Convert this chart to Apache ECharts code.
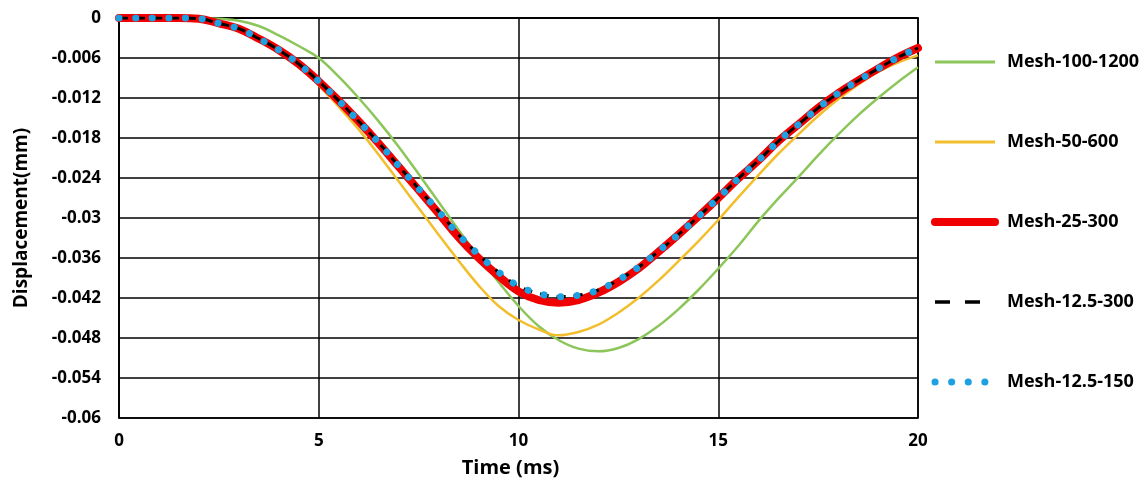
<!DOCTYPE html>
<html>
<head>
<meta charset="utf-8">
<script src="https://cdn.jsdelivr.net/npm/echarts@6/dist/echarts.min.js"></script>
<style>
  html, body { margin: 0; padding: 0; background: #fff; }
  #chart { width: 1142px; height: 488px; }
</style>
</head>
<body>
<div id="chart"></div>
<script>
// time axis (ms)
const timeMs = [0, 0.5, 1, 1.5, 2, 2.5, 3, 3.5, 4, 4.5, 5, 5.5, 6, 6.5, 7, 7.5, 8, 8.5, 9, 9.5,
  10, 10.5, 11, 11.5, 12, 12.5, 13, 13.5, 14, 14.5, 15, 15.5, 16, 16.5, 17, 17.5, 18, 18.5, 19, 19.5, 20]

// displacement (mm)
const mesh100_1200 = [0, 0, 0, 0, 0, -0.0001, -0.0004, -0.0012, -0.0026, -0.0042, -0.006, -0.0088, -0.012, -0.0155, -0.0193, -0.0234, -0.0276, -0.0318, -0.0358, -0.0396,
  -0.0432, -0.0462, -0.0483, -0.0496, -0.05, -0.0495, -0.0482, -0.0462, -0.0437, -0.0408, -0.0376, -0.0342, -0.0305, -0.0271, -0.0239, -0.0206, -0.0175, -0.0146, -0.012, -0.0096, -0.0074]
const mesh50_600 = [0, 0, 0, 0, -0.0001, -0.0008, -0.0017, -0.003, -0.0047, -0.0069, -0.0101, -0.0133, -0.0167, -0.0205, -0.0245, -0.0285, -0.0325, -0.0364, -0.0401, -0.0432,
  -0.0453, -0.0467, -0.0476, -0.0471, -0.046, -0.0442, -0.042, -0.0394, -0.0365, -0.0335, -0.0303, -0.0269, -0.0236, -0.0204, -0.0175, -0.0147, -0.0122, -0.01, -0.0081, -0.0067, -0.0056]
const mesh25_300 = [0, 0, 0, 0, -0.0001, -0.0008, -0.0016, -0.0031, -0.0048, -0.0069, -0.0095, -0.0124, -0.0155, -0.0188, -0.0223, -0.0258, -0.0293, -0.0329, -0.036, -0.0387,
  -0.041, -0.0423, -0.0427, -0.0423, -0.0412, -0.0396, -0.0376, -0.0351, -0.0325, -0.0298, -0.027, -0.0241, -0.0214, -0.0185, -0.016, -0.0135, -0.0113, -0.0094, -0.0076, -0.0059, -0.0045]
const mesh12_5_300 = [0, 0, 0, 0, -0.0001, -0.0008, -0.0016, -0.0031, -0.0048, -0.0069, -0.0095, -0.0124, -0.0155, -0.0187, -0.0222, -0.0256, -0.029, -0.0325, -0.0355, -0.0381,
  -0.0402, -0.0413, -0.0418, -0.0416, -0.0408, -0.0393, -0.0374, -0.035, -0.0325, -0.0298, -0.027, -0.0241, -0.0214, -0.0185, -0.016, -0.0135, -0.0113, -0.0094, -0.0076, -0.0059, -0.0045]
const mesh12_5_150 = [0, 0, 0, 0, -0.0001, -0.0008, -0.0016, -0.0031, -0.0048, -0.0069, -0.0095, -0.0124, -0.0155, -0.0187, -0.0222, -0.0256, -0.029, -0.0325, -0.0355, -0.0381,
  -0.0402, -0.0413, -0.0418, -0.0416, -0.0408, -0.0393, -0.0374, -0.035, -0.0325, -0.0298, -0.027, -0.0241, -0.0214, -0.0185, -0.016, -0.0135, -0.0113, -0.0094, -0.0076, -0.0059, -0.0045]

const seriesNames = ['Mesh-100-1200', 'Mesh-50-600', 'Mesh-25-300', 'Mesh-12.5-300', 'Mesh-12.5-150']

const FONT = 'Open Sans'

function pairs (ys) {
  return timeMs.map((t, i) => [t, ys[i]])
}

const myChart = echarts.init(document.getElementById('chart'))

const option = {
  animation: false,
  backgroundColor: '#fff',
  grid: {
    left: 119,
    top: 18,
    right: 224,
    bottom: 70,
    show: true,
    borderColor: '#000',
    borderWidth: 1.5
  },
  legend: {
    orient: 'vertical',
    left: 926,
    top: 48,
    itemWidth: 60,
    itemHeight: 20,
    itemGap: 62,
    // hide the round symbol the line series puts in its legend icon
    itemStyle: { opacity: 0 },
    data: [
      { name: seriesNames[0], lineStyle: { width: 3 } },
      { name: seriesNames[1], lineStyle: { width: 3 } },
      { name: seriesNames[2], lineStyle: { width: 8, cap: 'round' } },
      { name: seriesNames[3], lineStyle: { width: 3.5, type: [15, 15] } },
      { name: seriesNames[4], lineStyle: { width: 7, type: [0.1, 16.5], cap: 'round' } }
    ],
    textStyle: {
      fontFamily: FONT,
      fontWeight: 'bold',
      fontSize: 18,
      color: '#000',
      padding: [0, 0, 0, 7]
    }
  },
  xAxis: {
    type: 'value',
    min: 0,
    max: 20,
    interval: 5,
    name: 'Time (ms)',
    nameLocation: 'middle',
    nameGap: 40,
    nameTextStyle: {
      fontFamily: FONT,
      fontWeight: 'bold',
      fontSize: 20,
      color: '#000',
      padding: [0, 16, 0, 0]
    },
    axisLine: { lineStyle: { color: '#000', width: 1.5 } },
    axisTick: { show: false },
    axisLabel: {
      margin: 15,
      fontFamily: FONT,
      fontWeight: 'bold',
      fontSize: 17,
      color: '#000'
    },
    splitLine: { lineStyle: { color: '#000', width: 1.5 } }
  },
  yAxis: {
    type: 'value',
    min: -0.06,
    max: 0,
    interval: 0.006,
    name: 'Displacement(mm)',
    nameLocation: 'middle',
    nameGap: 88,
    nameTextStyle: {
      fontFamily: FONT,
      fontWeight: 'bold',
      fontSize: 19,
      color: '#000'
    },
    axisLine: { show: true, lineStyle: { color: '#000', width: 1.5 } },
    axisTick: { show: false },
    axisLabel: {
      margin: 18,
      fontFamily: FONT,
      fontWeight: 'bold',
      fontSize: 17,
      color: '#000',
      formatter: v => String(parseFloat(v.toFixed(3)))
    },
    splitLine: { lineStyle: { color: '#000', width: 1.5 } }
  },
  series: [
    {
      name: seriesNames[0],
      type: 'line',
      data: pairs(mesh100_1200),
      smooth: 0.4,
      symbol: 'none',
      lineStyle: { color: '#8CC65A', width: 2.5 },
      itemStyle: { color: '#8CC65A' }
    },
    {
      name: seriesNames[1],
      type: 'line',
      data: pairs(mesh50_600),
      smooth: 0.4,
      symbol: 'none',
      lineStyle: { color: '#F2BE2C', width: 2.5 },
      itemStyle: { color: '#F2BE2C' }
    },
    {
      name: seriesNames[2],
      type: 'line',
      data: pairs(mesh25_300),
      smooth: 0.4,
      symbol: 'none',
      lineStyle: { color: '#F00000', width: 8, cap: 'round' },
      itemStyle: { color: '#F00000' }
    },
    {
      name: seriesNames[3],
      type: 'line',
      data: pairs(mesh12_5_300),
      smooth: 0.4,
      symbol: 'none',
      lineStyle: { color: '#000', width: 3, type: [9, 8] },
      itemStyle: { color: '#000' }
    },
    {
      name: seriesNames[4],
      type: 'line',
      data: pairs(mesh12_5_150),
      smooth: 0.4,
      symbol: 'none',
      lineStyle: { color: '#1DA1E2', width: 7, type: [0.1, 16.5], cap: 'round' },
      itemStyle: { color: '#1DA1E2' }
    }
  ]
}

myChart.setOption(option)
</script>
</body>
</html>
